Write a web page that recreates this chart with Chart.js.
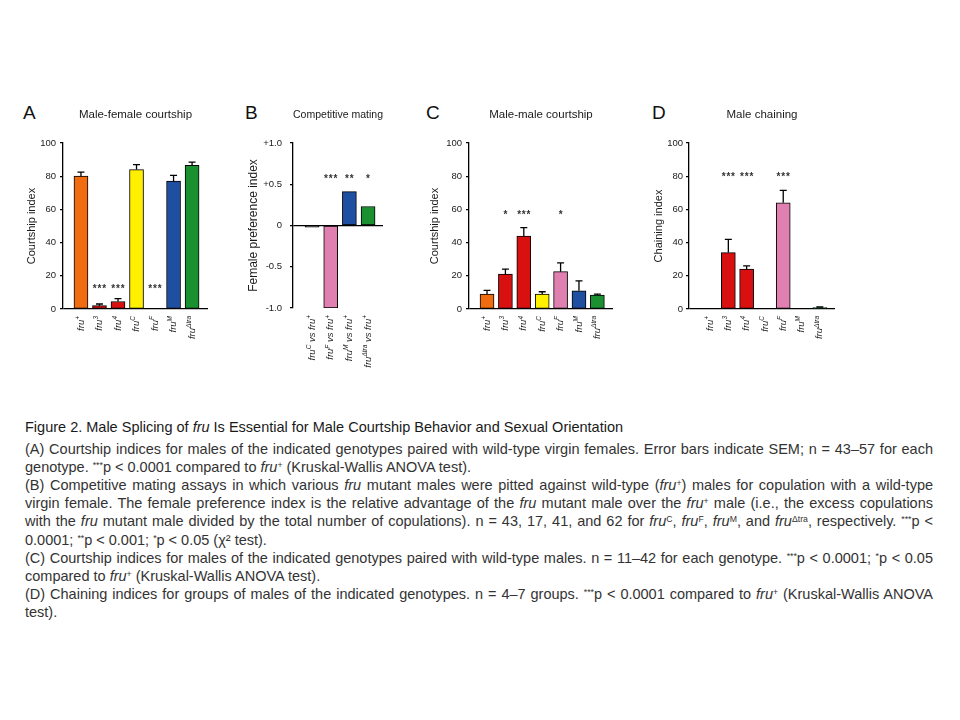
<!DOCTYPE html>
<html>
<head>
<meta charset="utf-8">
<title>Figure 2 - Male splicing of fru</title>
<script src="https://cdn.jsdelivr.net/npm/chart.js@4.4.0/dist/chart.umd.min.js"></script>
<style>
  body { margin: 0; background: #fff; width: 960px; height: 720px; position: relative; overflow: hidden;
         font-family: "Liberation Sans", Arial, sans-serif; }
  canvas { position: absolute; }
  .letter { position: absolute; font-size: 19px; line-height: 19px; color: #111; }
  .cap { position: absolute; left: 25px; width: 908px; font-size: 14.5px; color: #333; }
  .cap .j { text-align: justify; text-align-last: justify; }
  .cap sup { font-size: 0.6em; vertical-align: 0.5em; line-height: 0; }
  #capTitle { top: 418px; line-height: 19px; color: #1a1a1a; }
  #capBody { top: 439.5px; line-height: 18.2px; }
</style>
</head>
<body>

<div class="letter" style="left:23px;top:103px">A</div>
<div class="letter" style="left:245px;top:103px">B</div>
<div class="letter" style="left:426px;top:103px">C</div>
<div class="letter" style="left:652px;top:103px">D</div>

<canvas id="chartA" width="200" height="300" style="left:20px;top:95px"></canvas>
<canvas id="chartB" width="170" height="300" style="left:240px;top:95px"></canvas>
<canvas id="chartC" width="205" height="300" style="left:420px;top:95px"></canvas>
<canvas id="chartD" width="205" height="300" style="left:640px;top:95px"></canvas>

<div class="cap" id="capTitle">Figure 2. Male Splicing of <i>fru</i> Is Essential for Male Courtship Behavior and Sexual Orientation</div>
<div class="cap" id="capBody">
  <div class="j">(A) Courtship indices for males of the indicated genotypes paired with wild-type virgin females. Error bars indicate SEM; n = 43–57 for each</div>
  <div>genotype. <sup>***</sup>p &lt; 0.0001 compared to <i>fru</i><sup>+</sup> (Kruskal-Wallis ANOVA test).</div>
  <div class="j">(B) Competitive mating assays in which various <i>fru</i> mutant males were pitted against wild-type (<i>fru</i><sup>+</sup>) males for copulation with a wild-type</div>
  <div class="j">virgin female. The female preference index is the relative advantage of the <i>fru</i> mutant male over the <i>fru</i><sup>+</sup> male (i.e., the excess copulations</div>
  <div class="j">with the <i>fru</i> mutant male divided by the total number of copulations). n = 43, 17, 41, and 62 for <i>fru</i><sup>C</sup>, <i>fru</i><sup>F</sup>, <i>fru</i><sup>M</sup>, and <i>fru</i><sup>Δtra</sup>, respectively. <sup>***</sup>p &lt;</div>
  <div>0.0001; <sup>**</sup>p &lt; 0.001; <sup>*</sup>p &lt; 0.05 (χ² test).</div>
  <div class="j">(C) Courtship indices for males of the indicated genotypes paired with wild-type males. n = 11–42 for each genotype. <sup>***</sup>p &lt; 0.0001; <sup>*</sup>p &lt; 0.05</div>
  <div>compared to <i>fru</i><sup>+</sup> (Kruskal-Wallis ANOVA test).</div>
  <div class="j">(D) Chaining indices for groups of males of the indicated genotypes. n = 4–7 groups. <sup>***</sup>p &lt; 0.0001 compared to <i>fru</i><sup>+</sup> (Kruskal-Wallis ANOVA</div>
  <div>test).</div>
</div>

<script>
// ---- data ----
// "^" starts a superscript that runs to the next space
const genotypes = ['fru^+', 'fru^3', 'fru^4', 'fru^C', 'fru^F', 'fru^M', 'fru^Δtra'];
const genoColors = ['#f06c10', '#d81010', '#d81010', '#fff000', '#e080b0', '#1e4fa0', '#1a9030'];

const femaleCourtship = [80, 2, 4.5, 84, 0, 77, 86.5];
const femaleCourtshipSem = [2.5, 1, 1.8, 3, 0, 3.5, 2];
const femaleCourtshipStars = ['', '***', '***', '', '***', '', ''];

const matingPairs = ['fru^C vs fru^+', 'fru^F vs fru^+', 'fru^M vs fru^+', 'fru^Δtra vs fru^+'];
const pairColors = ['#333333', '#e080b0', '#1e4fa0', '#1a9030'];
const preference = [-0.02, -1.0, 0.41, 0.23];
const preferenceStars = ['', '***', '**', '*'];

const maleCourtship = [9, 21, 44, 9, 22.5, 11, 8.4];
const maleCourtshipSem = [2.2, 3, 5, 1.4, 5.3, 6, 0.6];
const maleCourtshipStars = ['', '*', '***', '', '*', '', ''];

const chaining = [0, 34, 24, 0, 64, 0, 0.8];
const chainingSem = [0, 8, 2, 0, 7.5, 0, 0.4];
const chainingStars = ['', '***', '***', '', '***', '', ''];

const indexTicks = [0, 20, 40, 60, 80, 100];
const indexTickLabels = ['0', '20', '40', '60', '80', '100'];
const prefTicks = [-1, -0.5, 0, 0.5, 1];
const prefTickLabels = ['-1.0', '-0.5', '0', '+0.5', '+1.0'];

const FONT = '"Liberation Sans", Arial, sans-serif';

function parseLabel(s) {
  const parts = [];
  let cur = '', sup = false;
  for (const ch of s) {
    if (ch === '^') { if (cur) parts.push({ t: cur, sup }); cur = ''; sup = true; continue; }
    if (ch === ' ' && sup) { parts.push({ t: cur, sup }); cur = ' '; sup = false; continue; }
    cur += ch;
  }
  if (cur) parts.push({ t: cur, sup });
  return parts;
}

// error bars, significance stars and the rotated genotype labels
const panelMarks = {
  id: 'panelMarks',
  afterDatasetsDraw(chart, args, o) {
    const ctx = chart.ctx, xs = chart.scales.x, ys = chart.scales.y, area = chart.chartArea;
    ctx.save();
    ctx.strokeStyle = '#000';
    ctx.lineWidth = 1.3;
    (o.sem || []).forEach((e, i) => {
      if (!e) return;
      const px = xs.getPixelForValue(i);
      const y0 = ys.getPixelForValue(o.values[i]);
      const y1 = ys.getPixelForValue(o.values[i] + e);
      ctx.beginPath();
      ctx.moveTo(px, y0); ctx.lineTo(px, y1);
      ctx.moveTo(px - 3.5, y1); ctx.lineTo(px + 3.5, y1);
      ctx.stroke();
    });

    ctx.fillStyle = '#333';
    ctx.font = 'bold 10px ' + FONT;
    ctx.textAlign = 'center';
    ctx.textBaseline = 'middle';
    o.stars.forEach((s, i) => {
      if (s) ctx.fillText(s.split('').join('\u200a'), xs.getPixelForValue(i), ys.getPixelForValue(o.starLevel) + 3);
    });

    o.labels.forEach((lab, i) => {
      const parts = parseLabel(lab);
      const fonts = parts.map(p => p.sup ? 'italic 6.5px ' + FONT : 'italic 9.5px ' + FONT);
      ctx.save();
      ctx.translate(xs.getPixelForValue(i), area.bottom + 7);
      ctx.rotate(-Math.PI / 2);
      ctx.textAlign = 'left';
      ctx.textBaseline = 'middle';
      ctx.fillStyle = '#222';
      let w = 0;
      parts.forEach((p, k) => { ctx.font = fonts[k]; w += ctx.measureText(p.t).width; });
      let cx = -w;
      parts.forEach((p, k) => {
        ctx.font = fonts[k];
        ctx.fillText(p.t, cx, p.sup ? -3 : 0);
        cx += ctx.measureText(p.t).width;
      });
      ctx.restore();
    });
    ctx.restore();
  }
};

function makePanel(id, o) {
  new Chart(document.getElementById(id), {
    type: 'bar',
    data: {
      datasets: [{
        data: o.values.map((v, i) => ({ x: i, y: v })),
        backgroundColor: o.colors,
        borderColor: '#000',
        borderWidth: 1,
        borderSkipped: false,
        barThickness: 14
      }]
    },
    options: {
      responsive: false,
      animation: false,
      events: [],
      layout: { padding: o.pad },
      plugins: {
        legend: { display: false },
        tooltip: { enabled: false },
        title: {
          display: true, text: o.title, fullSize: false, color: '#1a1a1a',
          font: { family: FONT, size: 11.5, weight: 'normal' },
          padding: { top: 13, bottom: 21.2 }
        },
        panelMarks: {
          values: o.values, sem: o.sem, stars: o.stars, starLevel: o.starLevel, labels: o.labels
        }
      },
      scales: {
        x: { type: 'linear', display: false, min: o.xMin, max: o.xMax, offset: false, bounds: 'data' },
        y: {
          min: o.ticks[0], max: o.ticks[o.ticks.length - 1],
          afterFit: s => { s.width = o.yWidth; },
          afterBuildTicks: s => { s.ticks = o.ticks.map(v => ({ value: v })); },
          border: { display: true, color: '#000', width: 1.3 },
          grid: {
            drawOnChartArea: true,
            color: c => (c.tick && c.tick.value === 0) ? '#000' : 'rgba(0,0,0,0)',
            lineWidth: 1.3, tickColor: '#000', tickLength: 3
          },
          ticks: { color: '#1a1a1a', font: { family: FONT, size: 9.5 }, padding: o.tickPad,
                   callback: (v, i) => o.tickLabels[i] },
          title: { display: true, text: o.yTitle, color: '#1a1a1a', font: { family: FONT, size: o.yTitleSize },
                   padding: { top: o.titlePad, bottom: 0 } }
        }
      }
    },
    plugins: [panelMarks]
  });
}

makePanel('chartA', {
  title: 'Male-female courtship', yTitle: 'Courtship index', yTitleSize: 11,
  labels: genotypes, colors: genoColors, values: femaleCourtship, sem: femaleCourtshipSem,
  stars: femaleCourtshipStars, starLevel: 14,
  ticks: indexTicks, tickLabels: indexTickLabels,
  xMin: -0.97, xMax: 6.86, yWidth: 43, tickPad: 4, titlePad: 5.4,
  pad: { left: 0, right: 12, top: 0, bottom: 86 }
});

makePanel('chartB', {
  title: 'Competitive mating', yTitle: 'Female preference index', yTitleSize: 12,
  labels: matingPairs, colors: pairColors, values: preference, sem: null,
  stars: preferenceStars, starLevel: 0.6,
  ticks: prefTicks, tickLabels: prefTickLabels,
  xMin: -1.02, xMax: 3.8, yWidth: 53, tickPad: 8, titlePad: 6,
  pad: { left: 0, right: 27, top: 0, bottom: 87 }
});

makePanel('chartC', {
  title: 'Male-male courtship', yTitle: 'Courtship index', yTitleSize: 11,
  labels: genotypes, colors: genoColors, values: maleCourtship, sem: maleCourtshipSem,
  stars: maleCourtshipStars, starLevel: 58,
  ticks: indexTicks, tickLabels: indexTickLabels,
  xMin: -0.98, xMax: 6.85, yWidth: 49, tickPad: 4, titlePad: 8.4,
  pad: { left: 0, right: 12, top: 0, bottom: 86 }
});

makePanel('chartD', {
  title: 'Male chaining', yTitle: 'Chaining index', yTitleSize: 11,
  labels: genotypes, colors: genoColors, values: chaining, sem: chainingSem,
  stars: chainingStars, starLevel: 81,
  ticks: indexTicks, tickLabels: indexTickLabels,
  xMin: -1.15, xMax: 6.83, yWidth: 49, tickPad: 3, titlePad: 12.4,
  pad: { left: 0, right: 10, top: 0, bottom: 86 }
});
</script>
</body>
</html>
